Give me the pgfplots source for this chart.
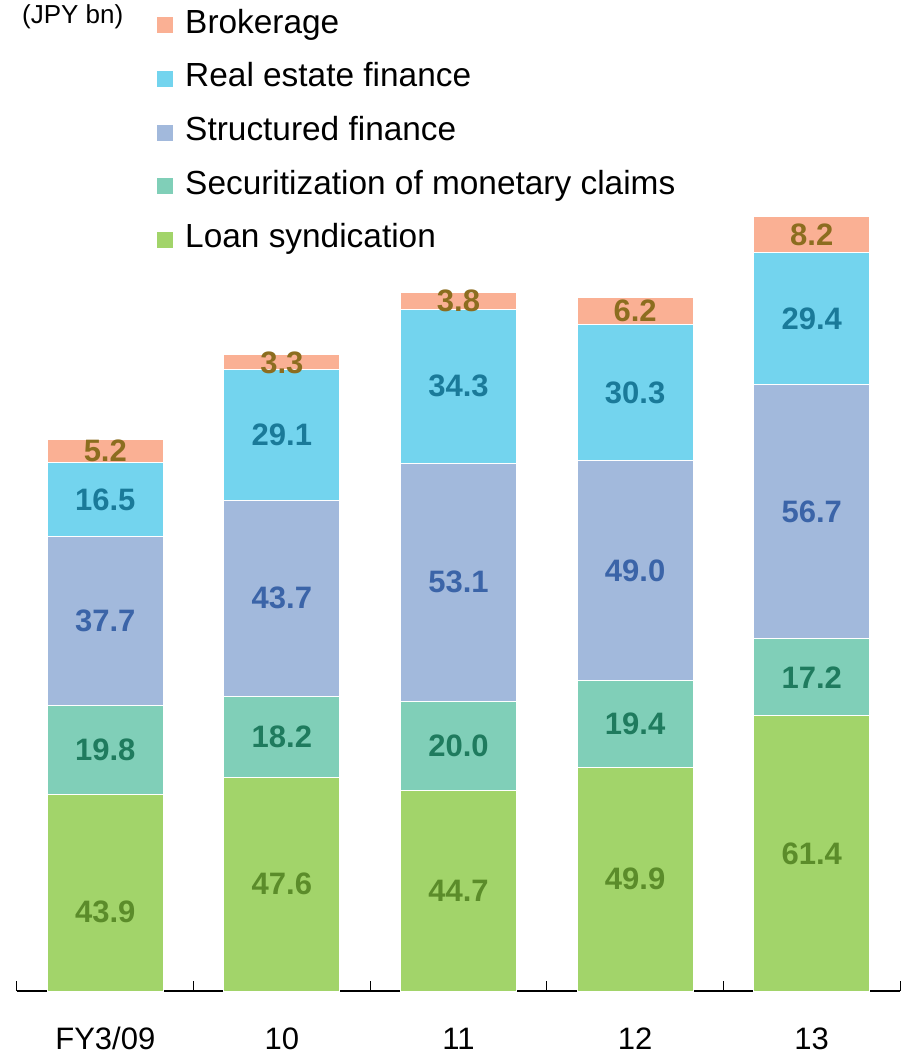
\documentclass[border=0pt]{standalone}
\usepackage{pgfplots}
\pgfplotsset{compat=1.18}
\usepackage{pgfplotstable}
\usepackage{fontspec}
\setmainfont{Liberation Sans}
\definecolor{cBrok}{HTML}{FAB094}
\definecolor{cRE}{HTML}{73D4EE}
\definecolor{cStr}{HTML}{A2B9DC}
\definecolor{cSec}{HTML}{80CFB8}
\definecolor{cLoan}{HTML}{A2D46A}
\definecolor{tBrok}{HTML}{8C6D1F}
\definecolor{tRE}{HTML}{1A7A99}
\definecolor{tStr}{HTML}{3B64A8}
\definecolor{tSec}{HTML}{1F7B5E}
\definecolor{tLoan}{HTML}{5B8C2A}
\pgfplotstableread{
x loan sec str re brok ld
0 43.9 19.8 37.7 16.5 5.2 19
1 47.6 18.2 43.7 29.1 3.3 0
2 44.7 20.0 53.1 34.3 3.8 0
3 49.9 19.4 49.0 30.3 6.2 0
4 61.4 17.2 56.7 29.4 8.2 0
}\data
\pgfplotsset{
  lbl/.style={nodes near coords, point meta=explicit symbolic,
    every node near coord/.append style={anchor=center, text=#1,
      font=\bfseries\fontsize{31}{31}\selectfont, inner sep=0pt,
      yshift={-\ldrop*1pt}}},
}
\begin{document}
\begin{tikzpicture}
\begin{axis}[
  ybar stacked,
  x=176.6pt, y=4.482pt,
  xmin=-0.5, xmax=4.5, ymin=0, ymax=200,
  bar width=116pt,
  axis y line=none,
  axis x line=bottom,
  x axis line style={-, line width=1.3pt, black},
  xtick={0,1,2,3,4},
  xticklabels={FY3/09,10,11,12,13},
  major tick length=0pt,
  minor xtick={-0.5,0.5,1.5,2.5,3.5,4.5},
  minor tick length=10pt,
  tick align=inside,
  tick style={black, line width=1pt},
  xticklabel style={font=\fontsize{31}{31}\selectfont, inner sep=0pt, text height=22pt, text depth=6pt, yshift=-36pt},
  clip=false,
  legend cell align=left,
  reverse legend,
  legend image code/.code={\fill[#1, draw=none] (0pt,-8pt) rectangle (16pt,8pt);},
  legend style={at={(0.1586,1.0944)}, anchor=north west, draw=none, fill=none,
    inner sep=0pt, row sep=23.7pt, column sep=12pt,
    font=\fontsize{33.4}{33.4}\selectfont,
    nodes={inner sep=0pt, text height=23pt, text depth=7pt}},
]
\addplot[fill=cLoan, draw=white, line width=1pt, lbl=tLoan,
  visualization depends on={\thisrow{ld} \as \ldrop}]
  table[x=x, y=loan, meta=loan] {\data};
\addlegendentry{Loan syndication}
\addplot[fill=cSec, draw=white, line width=1pt, lbl=tSec,
  visualization depends on={0 \as \ldrop}]
  table[x=x, y=sec, meta=sec] {\data};
\addlegendentry{Securitization of monetary claims}
\addplot[fill=cStr, draw=white, line width=1pt, lbl=tStr,
  visualization depends on={0 \as \ldrop}]
  table[x=x, y=str, meta=str] {\data};
\addlegendentry{Structured finance}
\addplot[fill=cRE, draw=white, line width=1pt, lbl=tRE,
  visualization depends on={0 \as \ldrop}]
  table[x=x, y=re, meta=re] {\data};
\addlegendentry{Real estate finance}
\addplot[fill=cBrok, draw=white, line width=1pt, lbl=tBrok,
  visualization depends on={0 \as \ldrop}]
  table[x=x, y=brok, meta=brok] {\data};
\addlegendentry{Brokerage}
\end{axis}
\node[anchor=base west, inner sep=0pt, font=\fontsize{26}{26}\selectfont] at (5pt,967pt) {(JPY bn)};
\pgfresetboundingbox
\path (-17pt,-63pt) rectangle (884pt,991pt);
\end{tikzpicture}
\end{document}
